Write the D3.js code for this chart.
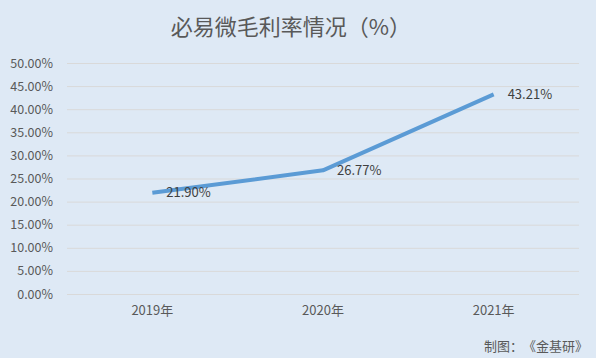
<!DOCTYPE html>
<html><head><meta charset="utf-8">
<script src="https://cdn.jsdelivr.net/npm/d3@7"></script>
<style>body{margin:0;background:#dee9f5;}svg{display:block;} text{text-spacing-trim: space-all;}</style>
</head><body>
<svg id="c" width="596" height="358"></svg>
<script>
const categories = ["2019年", "2020年", "2021年"];
const values = [21.90, 26.77, 43.21];
const yTicks = [0, 5, 10, 15, 20, 25, 30, 35, 40, 45, 50];
const titleText = "必易微毛利率情况（%）";
const sourceText = "制图：《金基研》";

const W = 596, H = 358;
const m = {left: 67, right: 17, top: 63, bottom: 64};
const svg = d3.select("#c");
svg.append("rect").attr("width", W).attr("height", H).attr("fill", "#dee9f5");
const font = "'Noto Sans CJK SC', 'Microsoft YaHei', sans-serif";

const x = d3.scaleBand().domain(categories).range([m.left, W - m.right]);
const y = d3.scaleLinear().domain([0, 50]).range([H - m.bottom, m.top]);

const yAxis = svg.append("g").attr("transform", `translate(${m.left},0)`)
  .call(d3.axisLeft(y).tickValues(yTicks).tickFormat(d => d.toFixed(2) + "%").tickSize(-(W - m.left - m.right)).tickPadding(14));
yAxis.select(".domain").remove();
yAxis.selectAll(".tick line").attr("stroke", "#d9d9d9").attr("stroke-width", 1);
yAxis.selectAll(".tick text").attr("fill", "#595959").style("font-family", font).style("font-size", "12.5px");

const xAxis = svg.append("g").attr("transform", `translate(0,${H - m.bottom})`)
  .call(d3.axisBottom(x).tickSize(0).tickPadding(12));
xAxis.select(".domain").remove();
xAxis.selectAll(".tick text").attr("fill", "#595959").style("font-family", font).style("font-size", "13px");

const cx = d => x(d) + x.bandwidth() / 2;
const line = d3.line().x((d, i) => cx(categories[i])).y(d => y(d));
svg.append("path").datum(values).attr("d", line).attr("fill", "none")
  .attr("stroke", "#5b9bd5").attr("stroke-width", 4).attr("stroke-linejoin", "round");

svg.selectAll(".lbl").data(values).enter().append("text")
  .attr("x", (d, i) => cx(categories[i]) + 14).attr("y", d => y(d))
  .attr("dy", "0.35em").attr("fill", "#404040")
  .style("font-family", font).style("font-size", "13px")
  .text(d => d.toFixed(2) + "%");

svg.append("text").attr("x", 291).attr("y", 27).attr("text-anchor", "middle").attr("dy", "0.35em")
  .attr("fill", "#595959").style("font-family", font).style("font-size", "22px").text(titleText);

svg.append("text").attr("x", 588).attr("y", 346).attr("text-anchor", "end").attr("dy", "0.35em")
  .attr("fill", "#595959").style("font-family", font).style("font-size", "13px")
  .text(sourceText);
</script>
</body></html>
